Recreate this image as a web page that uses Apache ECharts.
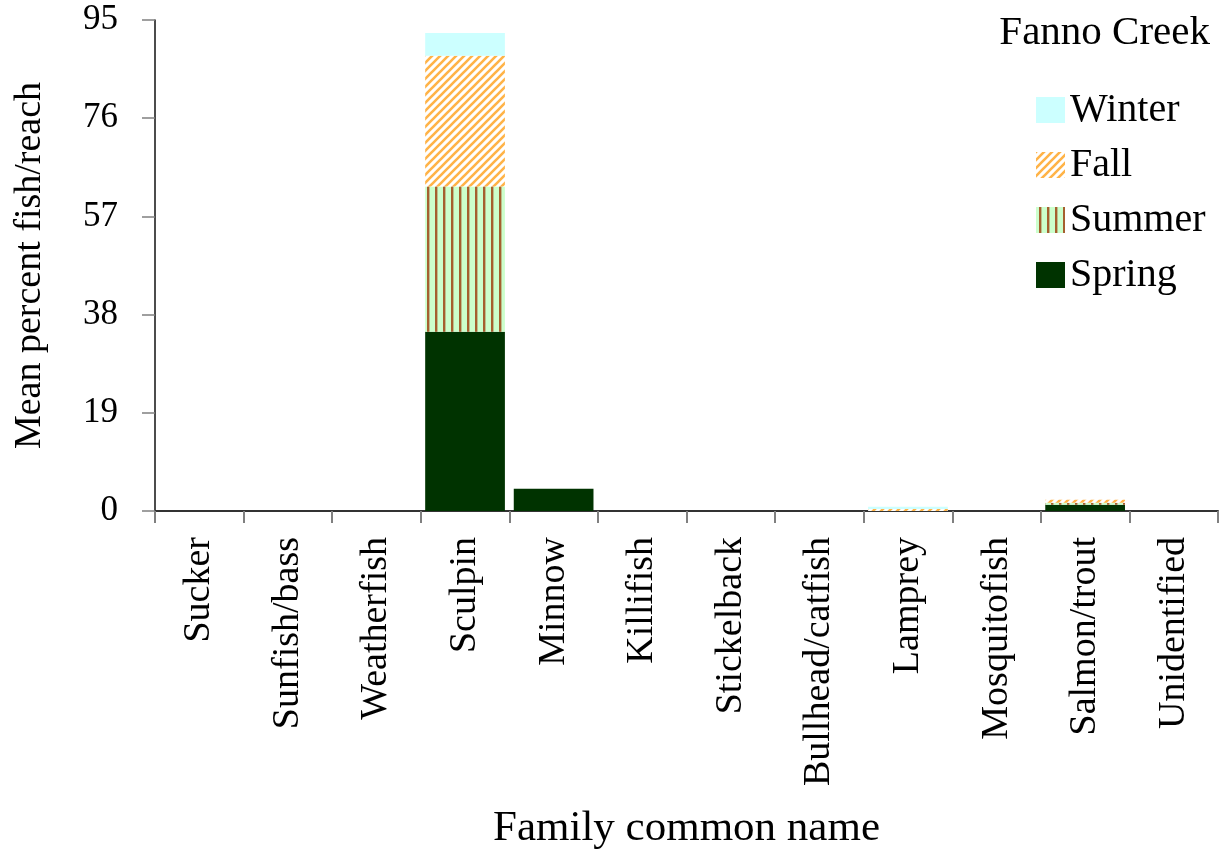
<!DOCTYPE html>
<html>
<head>
<meta charset="utf-8">
<script src="https://cdn.jsdelivr.net/npm/echarts@6/dist/echarts.min.js"></script>
<style>html,body{margin:0;padding:0;background:#fff}#c{width:1227px;height:850px}</style>
</head>
<body>
<div id="c"></div>
<script>
const categories = ["Sucker","Sunfish/bass","Weatherfish","Sculpin","Minnow","Killifish","Stickelback","Bullhead/catfish","Lamprey","Mosquitofish","Salmon/trout","Unidentified"];
const spring = [0,0,0,34.7,4.3,0,0,0,0,0,1.2,0];
const summer = [0,0,0,28.1,0,0,0,0,0,0,0.4,0];
const fall   = [0,0,0,25.3,0,0,0,0,0.4,0,0.6,0];
const winter = [0,0,0,4.4,0,0,0,0,0.4,0,0,0];
const yTicks = [0,19,38,57,76,95];
const legendTitle = "Fanno Creek";
const yTitle = "Mean percent fish/reach";
const xTitle = "Family common name";

const FONT = "Liberation Serif";

function summerPattern(){
  const c = document.createElement('canvas'); c.width = 8; c.height = 8;
  const g = c.getContext('2d');
  g.fillStyle = '#ccffcc'; g.fillRect(0,0,8,8);
  g.fillStyle = '#a5602f'; g.fillRect(3,0,2.4,8);
  return c;
}
function fallPattern(){
  const c = document.createElement('canvas'); c.width = 8; c.height = 8;
  const g = c.getContext('2d');
  g.fillStyle = '#ffffff'; g.fillRect(0,0,8,8);
  g.strokeStyle = '#ffb347'; g.lineWidth = 2.6;
  g.beginPath();
  g.moveTo(-2,10); g.lineTo(10,-2);
  g.moveTo(-6,6); g.lineTo(6,-6);
  g.moveTo(2,14); g.lineTo(14,2);
  g.stroke();
  return c;
}

const colors = {
  Winter: '#ccffff',
  Fall: {image: fallPattern(), repeat: 'repeat'},
  Summer: {image: summerPattern(), repeat: 'repeat'},
  Spring: '#003300'
};

function bar(name, data){
  return {
    name: name, type: 'bar', stack: 'total', data: data,
    barCategoryGap: '10%',
    itemStyle: {color: colors[name]},
    emphasis: {disabled: true}
  };
}

const chart = echarts.init(document.getElementById('c'));
chart.setOption({
  animation: false,
  backgroundColor: '#ffffff',
  textStyle: {fontFamily: FONT, color: '#000'},
  title: {
    text: legendTitle, right: 12, top: 8,
    textStyle: {fontFamily: FONT, fontSize: 41, fontWeight: 'normal', color: '#000'}
  },
  legend: {
    orient: 'vertical', left: 1031, top: 85,
    itemWidth: 29, itemHeight: 26, itemGap: 15,
    icon: 'rect',
    data: ['Winter','Fall','Summer','Spring'],
    textStyle: {fontFamily: FONT, fontSize: 40, color: '#000', padding: [0,0,0,0]},
    selectedMode: false
  },
  grid: {left: 155, right: 9, top: 20, bottom: 339, containLabel: false, outerBoundsMode: 'none'},
  xAxis: {
    type: 'category', data: categories,
    name: xTitle, nameLocation: 'middle', nameGap: 296,
    nameTextStyle: {fontFamily: FONT, fontSize: 43, color: '#000'},
    axisLine: {lineStyle: {color: '#333', width: 2}},
    axisTick: {show: true, length: 12, lineStyle: {color: '#808080', width: 2}},
    axisLabel: {rotate: 90, interval: 0, margin: 26, fontFamily: FONT, fontSize: 38, color: '#000'},
    splitLine: {show: false}
  },
  yAxis: {
    type: 'value', min: yTicks[0], max: yTicks[yTicks.length-1], interval: yTicks[1]-yTicks[0],
    name: yTitle, nameLocation: 'middle', nameGap: 106, nameRotate: 90,
    nameTextStyle: {fontFamily: FONT, fontSize: 38, color: '#000'},
    axisLine: {show: true, lineStyle: {color: '#111', width: 1.5}},
    axisTick: {show: true, length: 13, lineStyle: {color: '#808080', width: 1.5}},
    axisLabel: {margin: 37, fontFamily: FONT, fontSize: 35, color: '#000'},
    splitLine: {show: false}
  },
  series: [
    bar('Spring', spring),
    bar('Summer', summer),
    bar('Fall', fall),
    bar('Winter', winter)
  ]
});
</script>
</body>
</html>
